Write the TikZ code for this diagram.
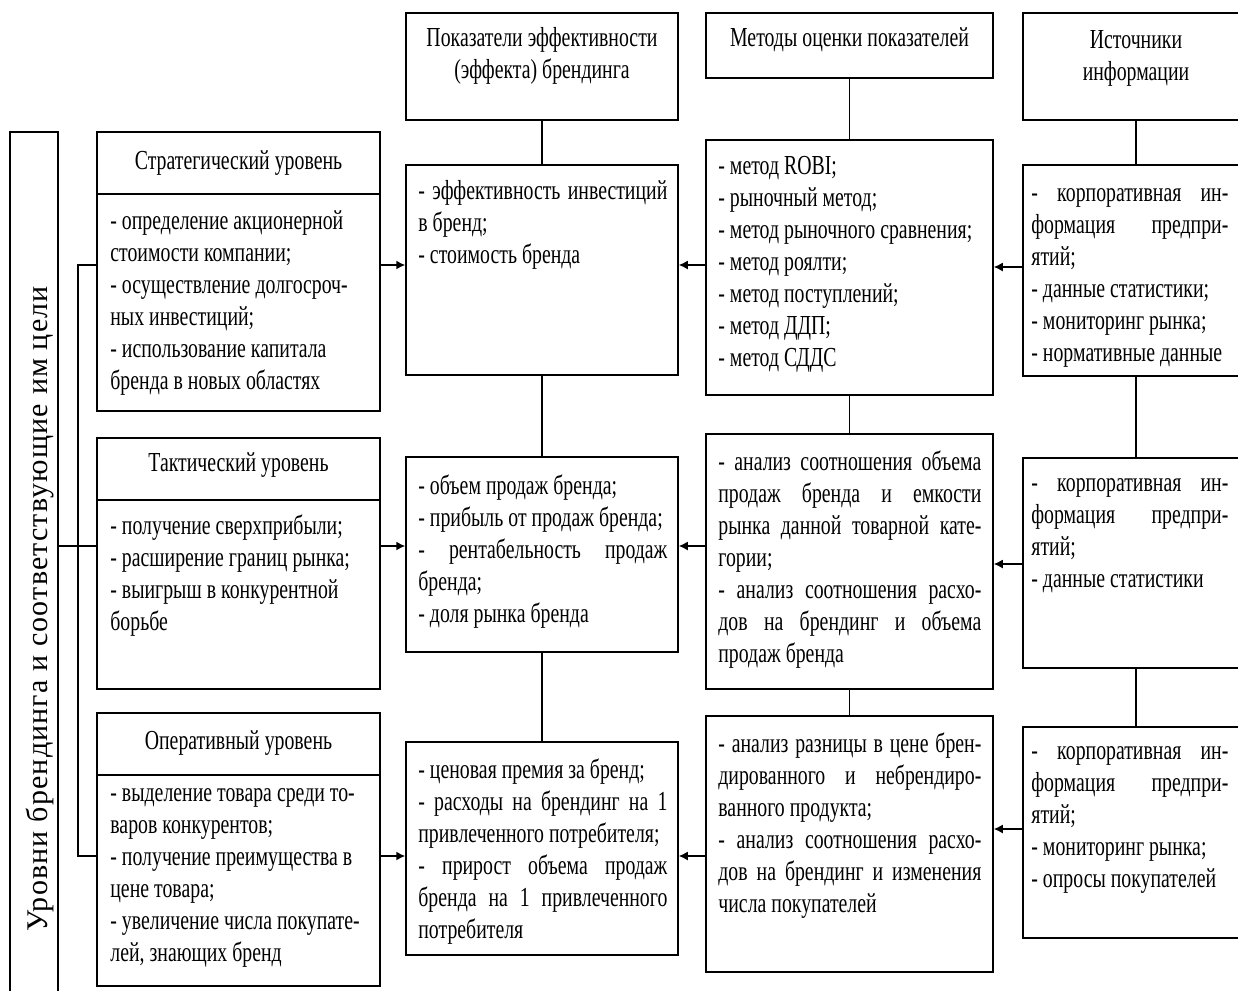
\documentclass[tikz,border=0pt]{standalone}
\usepackage{fontspec}
\setmainfont{Liberation Serif}[FakeStretch=0.72]
\newfontfamily\sidefont{Liberation Serif}[LetterSpace=4]
\usetikzlibrary{arrows.meta}
\usetikzlibrary{fit}

\newcommand{\jl}[1]{\makebox[\linewidth][s]{#1}}
\newcommand{\boxfont}{\fontsize{13.75}{16}\selectfont}
\newcommand{\boxspace}{\spaceskip=2.5pt plus 3pt minus 0.3pt\xspaceskip=\spaceskip}

\begin{document}
\begin{tikzpicture}[x=0.5pt,y=-0.5pt,
    box/.style={draw,line width=0.75pt,inner sep=0pt},
    txt/.style={anchor=base west,inner sep=0pt,align=flush left,font=\boxfont,execute at begin node=\boxspace},
    ttl/.style={anchor=base,inner sep=0pt,align=flush center,text width=132pt,font=\boxfont,execute at begin node=\boxspace},
    link/.style={line width=0.75pt},
    arr/.style={line width=0.75pt,-{Latex[length=4.5pt,width=4.5pt]}}]
    \useasboundingbox (0,0) rectangle (1238,991);
    % left column: levels
    \node [box,fit={(10,132) (58,1000)}] (lvl) {};
    \node [rotate=90,anchor=base,inner sep=0pt,font=\sidefont\fontsize{15}{18}\selectfont] (lvlt) at (47,609) {Уровни брендинга и соответствующие им цели};
    \node [box,fit={(97,132) (380,194)}] (strh) {};
    \node [box,fit={(97,194) (380,411)}] (strb) {};
    \node [box,fit={(97,438) (380,500)}] (tach) {};
    \node [box,fit={(97,500) (380,689)}] (tacb) {};
    \node [box,fit={(97,713) (380,775)}] (oph) {};
    \node [box,fit={(97,775) (380,986)}] (opb) {};
    \node [ttl] (strt) at (238.5,169) {Стратегический уровень};
    \node [ttl] (tact) at (238.5,471) {Тактический уровень};
    \node [ttl] (opt) at (238.5,749) {Оперативный уровень};
    \node [txt,text width=130pt] (strbt) at (110,229) {- определение акционерной\\стоимости компании;\\- осуществление долгосроч-\\ных инвестиций;\\- использование капитала\\бренда в новых областях};
    \node [txt,text width=130pt] (tacbt) at (110,534) {- получение сверхприбыли;\\- расширение границ рынка;\\- выигрыш в конкурентной\\борьбе};
    \node [txt,text width=130pt] (opbt) at (110,801) {- выделение товара среди то-\\варов конкурентов;\\- получение преимущества в\\цене товара;\\- увеличение числа покупате-\\лей, знающих бренд};
    % indicators
    \node [box,fit={(406,13) (678,120)}] (indh) {};
    \node [box,fit={(406,165) (678,375)}] (ind1) {};
    \node [box,fit={(406,457) (678,652)}] (ind2) {};
    \node [box,fit={(406,742) (678,955)}] (ind3) {};
    \node [ttl] (indht) at (542,46) {Показатели эффективности\\(эффекта) брендинга};
    \node [txt,text width=124.5pt] (ind1t) at (418,199) {\jl{- эффективность инвестиций}\\в бренд;\\- стоимость бренда};
    \node [txt,text width=124.5pt] (ind2t) at (418,494) {- объем продаж бренда;\\- прибыль от продаж бренда;\\\jl{- рентабельность продаж}\\бренда;\\- доля рынка бренда};
    \node [txt,text width=124.5pt] (ind3t) at (418,778) {- ценовая премия за бренд;\\\jl{- расходы на брендинг на 1}\\привлеченного потребителя;\\\jl{- прирост объема продаж}\\\jl{бренда на 1 привлеченного}\\потребителя};
    % methods
    \node [box,fit={(706,13) (993,78)}] (mth) {};
    \node [box,fit={(706,140) (993,395)}] (mt1) {};
    \node [box,fit={(706,434) (993,689)}] (mt2) {};
    \node [box,fit={(706,716) (993,972)}] (mt3) {};
    \node [ttl] (mtht) at (849.5,46) {Методы оценки показателей};
    \node [txt,text width=131.5pt] (mt1t) at (718,174) {- метод ROBI;\\- рыночный метод;\\- метод рыночного сравнения;\\- метод роялти;\\- метод поступлений;\\- метод ДДП;\\- метод СДДС};
    \node [txt,text width=131.5pt] (mt2t) at (718,470) {\jl{- анализ соотношения объема}\\\jl{продаж бренда и емкости}\\\jl{рынка данной товарной кате-}\\гории;\\\jl{- анализ соотношения расхо-}\\\jl{дов на брендинг и объема}\\продаж бренда};
    \node [txt,text width=131.5pt] (mt3t) at (718,752) {\jl{- анализ разницы в цене брен-}\\\jl{дированного и небрендиро-}\\ванного продукта;\\\jl{- анализ соотношения расхо-}\\\jl{дов на брендинг и изменения}\\числа покупателей};
    % sources
    \node [box,fit={(1023,13) (1249,120)}] (srh) {};
    \node [box,fit={(1023,165) (1249,376)}] (sr1) {};
    \node [box,fit={(1023,458) (1249,668)}] (sr2) {};
    \node [box,fit={(1023,727) (1249,938)}] (sr3) {};
    \node [ttl] (srht) at (1136,48) {Источники\\информации};
    \node [txt,text width=98.5pt] (sr1t) at (1031,201) {\jl{- корпоративная ин-}\\\jl{формация предпри-}\\ятий;\\- данные статистики;\\- мониторинг рынка;\\- нормативные данные};
    \node [txt,text width=98.5pt] (sr2t) at (1031,491) {\jl{- корпоративная ин-}\\\jl{формация предпри-}\\ятий;\\- данные статистики};
    \node [txt,text width=98.5pt] (sr3t) at (1031,759) {\jl{- корпоративная ин-}\\\jl{формация предпри-}\\ятий;\\- мониторинг рынка;\\- опросы покупателей};
    % rows of the arrows
    \coordinate (r1) at (0,265);
    \coordinate (r2) at (0,546);
    \coordinate (r3) at (0,856);
    \coordinate (s1) at (0,267);
    \coordinate (s2) at (0,564);
    \coordinate (s3) at (0,829);
    \coordinate (br) at (78,0);
    % vertical links
    \draw [link] (indh.south) -- (ind1.north);
    \draw [link] (ind1.south) -- (ind2.north);
    \draw [link] (ind2.south) -- (ind3.north);
    \draw [link] (mth.south) -- (mt1.north);
    \draw [link] (mt1.south) -- (mt2.north);
    \draw [link] (mt2.south) -- (mt3.north);
    \draw [link] (srh.south) -- (sr1.north);
    \draw [link] (sr1.south) -- (sr2.north);
    \draw [link] (sr2.south) -- (sr3.north);
    % bracket of the levels
    \draw [link] (strb.west |- r1) -| (br |- r3) -- (opb.west |- r3);
    \draw [link] (lvl.east |- r2) -- (tacb.west |- r2);
    % arrows
    \draw [arr] (strb.east |- r1) -- (ind1.west |- r1);
    \draw [arr] (tacb.east |- r2) -- (ind2.west |- r2);
    \draw [arr] (opb.east |- r3) -- (ind3.west |- r3);
    \draw [arr] (mt1.west |- r1) -- (ind1.east |- r1);
    \draw [arr] (mt2.west |- r2) -- (ind2.east |- r2);
    \draw [arr] (mt3.west |- r3) -- (ind3.east |- r3);
    \draw [arr] (sr1.west |- s1) -- (mt1.east |- s1);
    \draw [arr] (sr2.west |- s2) -- (mt2.east |- s2);
    \draw [arr] (sr3.west |- s3) -- (mt3.east |- s3);
\end{tikzpicture}
\end{document}
